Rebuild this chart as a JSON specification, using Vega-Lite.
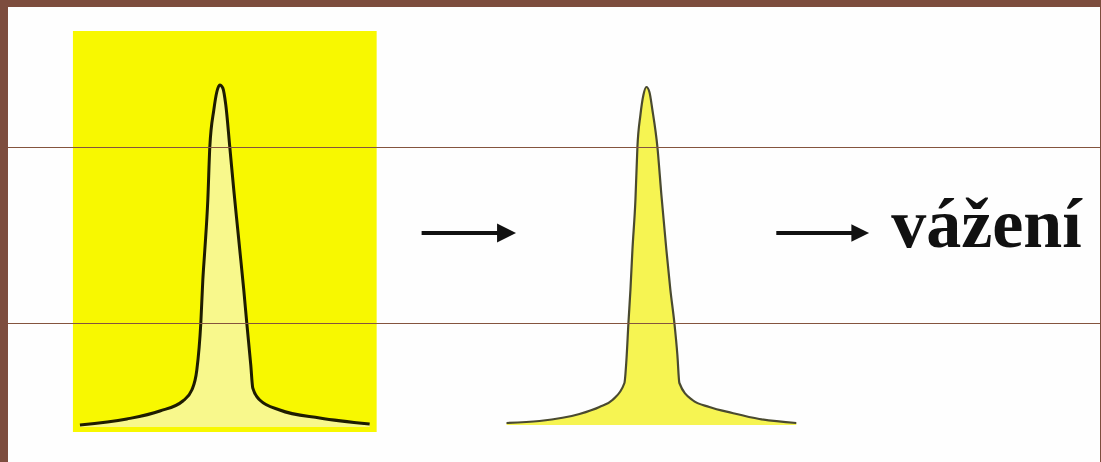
{
  "$schema": "https://vega.github.io/schema/vega-lite/v6.json",
  "width": 1101,
  "height": 462,
  "padding": 0,
  "autosize": {"type": "fit", "contains": "padding"},
  "background": "#7d4d3e",
  "view": {"stroke": null},
  "config": {"axis": {"disable": true}, "legend": {"disable": true}},
  "datasets": {
    "panel": [{"x1": 8, "x2": 1110, "y1": 7, "y2": 470}],
    "box": [{"x1": 73, "x2": 377, "y1": 31, "y2": 432}],
    "peak1": [
      {"x": 80, "y": 425}, {"x": 127, "y": 419}, {"x": 160, "y": 411}, {"x": 183, "y": 401},
      {"x": 192, "y": 390}, {"x": 197, "y": 370}, {"x": 201, "y": 323}, {"x": 203, "y": 280},
      {"x": 205, "y": 250}, {"x": 208, "y": 200}, {"x": 210, "y": 147}, {"x": 214, "y": 110},
      {"x": 217, "y": 92}, {"x": 220, "y": 85}, {"x": 223, "y": 88}, {"x": 226, "y": 105},
      {"x": 230, "y": 147}, {"x": 234, "y": 190}, {"x": 238, "y": 230}, {"x": 240, "y": 250},
      {"x": 244, "y": 290}, {"x": 247, "y": 323}, {"x": 251, "y": 365}, {"x": 253, "y": 388},
      {"x": 260, "y": 400}, {"x": 280, "y": 410}, {"x": 320, "y": 418}, {"x": 370, "y": 424}
    ],
    "peak2": [
      {"x": 507, "y": 423}, {"x": 540, "y": 421}, {"x": 580, "y": 414}, {"x": 600, "y": 407},
      {"x": 613, "y": 400}, {"x": 625, "y": 383}, {"x": 627, "y": 360}, {"x": 629, "y": 323},
      {"x": 631, "y": 290}, {"x": 633, "y": 250}, {"x": 636, "y": 200}, {"x": 638, "y": 147},
      {"x": 641, "y": 115}, {"x": 644, "y": 95}, {"x": 647, "y": 87}, {"x": 650, "y": 92},
      {"x": 653, "y": 110}, {"x": 658, "y": 147}, {"x": 662, "y": 195}, {"x": 667, "y": 250},
      {"x": 671, "y": 290}, {"x": 675, "y": 323}, {"x": 678, "y": 355}, {"x": 680, "y": 383},
      {"x": 693, "y": 400}, {"x": 710, "y": 407}, {"x": 733, "y": 413}, {"x": 760, "y": 419},
      {"x": 797, "y": 423}
    ],
    "shafts": [
      {"x1": 422, "x2": 500, "y": 233},
      {"x1": 777, "x2": 853, "y": 233}
    ],
    "heads": [
      {"x": 507, "y": 233, "s": 484},
      {"x": 861, "y": 233, "s": 420}
    ],
    "label": [{"x": 892, "y": 247, "t": "vážení"}],
    "guides": [{"y": 147.5}, {"y": 323.5}]
  },
  "encoding": {},
  "layer": [
    {
      "data": {"name": "panel"},
      "mark": {"type": "rect", "fill": "#fefefe", "clip": true},
      "encoding": {
        "x": {"field": "x1", "type": "quantitative", "scale": {"domain": [0, 1101], "zero": false, "nice": false}},
        "x2": {"field": "x2"},
        "y": {"field": "y1", "type": "quantitative", "scale": {"domain": [0, 462], "reverse": true, "zero": false, "nice": false}},
        "y2": {"field": "y2"}
      }
    },
    {
      "data": {"name": "box"},
      "mark": {"type": "rect", "fill": "#f8f800"},
      "encoding": {
        "x": {"field": "x1", "type": "quantitative"},
        "x2": {"field": "x2"},
        "y": {"field": "y1", "type": "quantitative"},
        "y2": {"field": "y2"}
      }
    },
    {
      "data": {"name": "peak1"},
      "mark": {"type": "area", "fill": "#f8f88c", "interpolate": "monotone"},
      "encoding": {
        "x": {"field": "x", "type": "quantitative"},
        "y": {"field": "y", "type": "quantitative"},
        "y2": {"datum": 427}
      }
    },
    {
      "data": {"name": "peak1"},
      "mark": {"type": "line", "stroke": "#1e1c00", "strokeWidth": 3, "interpolate": "monotone"},
      "encoding": {
        "x": {"field": "x", "type": "quantitative"},
        "y": {"field": "y", "type": "quantitative"}
      }
    },
    {
      "data": {"name": "peak2"},
      "mark": {"type": "area", "fill": "#f6f452", "interpolate": "monotone"},
      "encoding": {
        "x": {"field": "x", "type": "quantitative"},
        "y": {"field": "y", "type": "quantitative"},
        "y2": {"datum": 425}
      }
    },
    {
      "data": {"name": "peak2"},
      "mark": {"type": "line", "stroke": "#4a4a30", "strokeWidth": 2.2, "interpolate": "monotone"},
      "encoding": {
        "x": {"field": "x", "type": "quantitative"},
        "y": {"field": "y", "type": "quantitative"}
      }
    },
    {
      "data": {"name": "shafts"},
      "mark": {"type": "rule", "stroke": "#111111", "strokeWidth": 4},
      "encoding": {
        "x": {"field": "x1", "type": "quantitative"},
        "x2": {"field": "x2"},
        "y": {"field": "y", "type": "quantitative"}
      }
    },
    {
      "data": {"name": "heads"},
      "mark": {"type": "point", "shape": "M-1,-1L1,0L-1,1Z", "filled": true, "fill": "#111111", "stroke": null, "opacity": 1},
      "encoding": {
        "x": {"field": "x", "type": "quantitative"},
        "y": {"field": "y", "type": "quantitative"},
        "size": {"field": "s", "type": "quantitative", "scale": {"type": "identity"}, "legend": null}
      }
    },
    {
      "data": {"name": "label"},
      "mark": {"type": "text", "font": "Liberation Serif", "fontWeight": "bold", "fontSize": 70, "align": "left", "baseline": "alphabetic", "fill": "#111111"},
      "encoding": {
        "x": {"field": "x", "type": "quantitative"},
        "y": {"field": "y", "type": "quantitative"},
        "text": {"field": "t"}
      }
    },
    {
      "data": {"name": "guides"},
      "mark": {"type": "rule", "stroke": "#84543e", "strokeWidth": 1},
      "encoding": {
        "x": {"datum": 8},
        "x2": {"datum": 1101},
        "y": {"field": "y", "type": "quantitative"}
      }
    }
  ]
}
